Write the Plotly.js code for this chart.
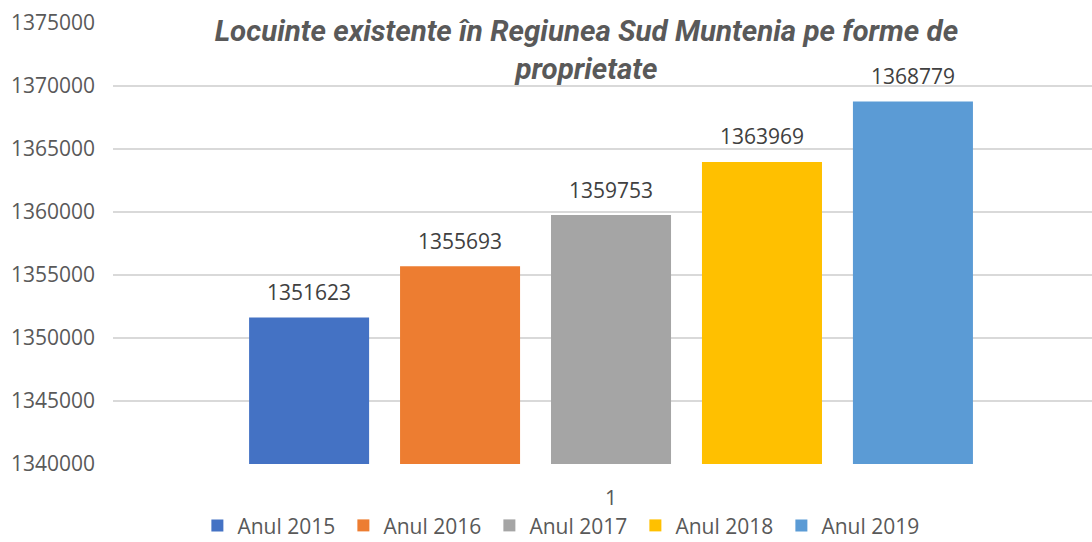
<!DOCTYPE html>
<html>
<head>
<meta charset="utf-8">
<script src="https://cdn.plot.ly/plotly-3.0.1.min.js"></script>
<style>
  html, body { margin: 0; padding: 0; background: #fff; }
  #chart { width: 1092px; height: 542px; }
</style>
</head>
<body>
<div id="chart"></div>
<script>
// Dwellings in the South Muntenia region, one bar per year
const categories = ['1'];
const seriesNames = ['Anul 2015', 'Anul 2016', 'Anul 2017', 'Anul 2018', 'Anul 2019'];
const seriesValues = [1351623, 1355693, 1359753, 1363969, 1368779];
const seriesColors = ['#4472C4', '#ED7D31', '#A5A5A5', '#FFC000', '#5B9BD5'];
const yTickValues = [1340000, 1345000, 1350000, 1355000, 1360000, 1365000, 1370000, 1375000];

const labelFont = { family: 'Open Sans, sans-serif', size: 21, color: '#404040' };
const axisFont = { family: 'Open Sans, sans-serif', size: 21, color: '#595959' };

const traces = [];
// bars
seriesNames.forEach((name, i) => {
  traces.push({
    type: 'bar',
    name: name,
    x: categories,
    y: [seriesValues[i]],
    marker: { color: seriesColors[i] },
    hoverinfo: 'name+y'
  });
});
// value labels, grouped the same way as the bars
seriesNames.forEach((name, i) => {
  traces.push({
    type: 'scatter',
    mode: 'markers+text',
    name: name,
    showlegend: false,
    x: categories,
    y: [seriesValues[i]],
    text: [String(seriesValues[i])],
    textposition: 'top center',
    textfont: labelFont,
    marker: { size: 18, opacity: 0 },
    hoverinfo: 'skip',
    cliponaxis: false
  });
});

const layout = {
  width: 1092,
  height: 542,
  margin: { l: 113, r: 0, t: 23, b: 78 },
  paper_bgcolor: '#ffffff',
  plot_bgcolor: '#ffffff',
  barmode: 'group',
  bargap: 0.229,
  bargroupgap: 0.205,
  scattermode: 'group',
  scattergap: 0.229,
  title: {
    text: 'Locuinte existente în Regiunea Sud Muntenia pe forme de<br>proprietate',
    font: { family: 'Roboto, sans-serif', size: 29.5, color: '#595959', weight: 'bold', style: 'italic' },
    xref: 'container', x: 0.537, xanchor: 'center',
    yref: 'container', y: 0.925, yanchor: 'top'
  },
  xaxis: {
    type: 'category',
    range: [-0.5087, 0.4913],
    showgrid: false,
    zeroline: false,
    showline: false,
    ticks: '',
    tickfont: axisFont,
    ticklabelstandoff: 20
  },
  yaxis: {
    range: [1340000, 1375000],
    tickvals: yTickValues,
    ticktext: yTickValues.map(String),
    showgrid: true,
    gridcolor: '#d9d9d9',
    gridwidth: 1.5,
    zeroline: false,
    showline: false,
    ticks: '',
    tickfont: axisFont,
    ticklabelstandoff: 17
  },
  showlegend: true,
  legend: {
    orientation: 'h',
    xref: 'container', yref: 'container',
    x: 0.515, xanchor: 'center',
    y: 0.03, yanchor: 'middle',
    font: axisFont,
    traceorder: 'normal',
    itemwidth: 30,
    entrywidth: 101
  }
};

Plotly.newPlot('chart', traces, layout, { displayModeBar: false, staticPlot: true });
</script>
</body>
</html>
